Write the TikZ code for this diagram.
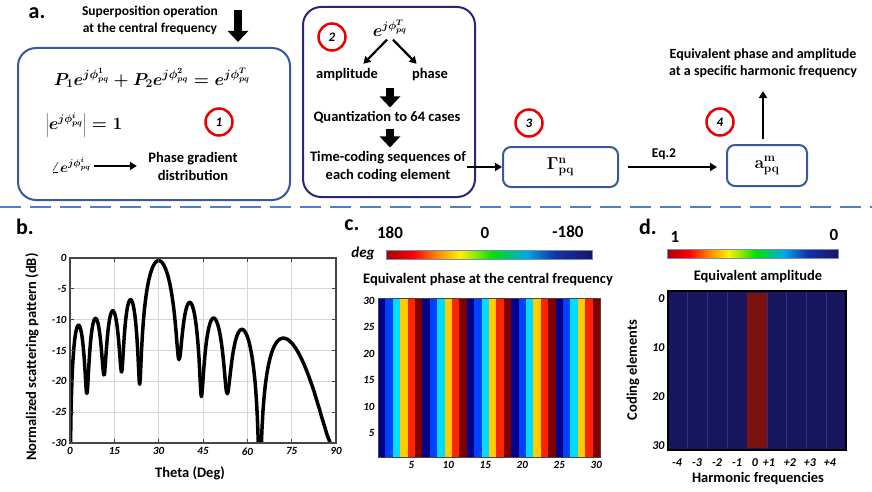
\documentclass[tikz,border=0pt]{standalone}
\usepackage[no-math]{fontspec}
\setmainfont{Carlito}
\usetikzlibrary{arrows.meta}
\usetikzlibrary{positioning}

\definecolor{boxblue}{RGB}{59,89,152}
\definecolor{boxpurple}{RGB}{44,38,120}
\definecolor{dashblue}{RGB}{80,125,200}
\definecolor{circred}{RGB}{235,0,0}
\definecolor{axisgray}{RGB}{70,70,70}
\definecolor{gridgray}{RGB}{215,215,215}
\definecolor{ph0}{RGB}{0,0,140}
\definecolor{ph1}{RGB}{0,64,255}
\definecolor{ph2}{RGB}{0,220,255}
\definecolor{ph3}{RGB}{255,204,0}
\definecolor{ph4}{RGB}{255,36,0}
\definecolor{ph5}{RGB}{128,0,0}
\definecolor{ampnavy}{RGB}{25,22,96}
\definecolor{ampline}{RGB}{50,46,130}
\definecolor{ampred}{RGB}{122,18,18}
\definecolor{j0}{RGB}{170,0,0}
\definecolor{j1}{RGB}{255,0,0}
\definecolor{j2}{RGB}{255,140,0}
\definecolor{j3}{RGB}{255,240,0}
\definecolor{j4}{RGB}{0,225,0}
\definecolor{j5}{RGB}{0,170,230}
\definecolor{j6}{RGB}{20,50,170}
\definecolor{j7}{RGB}{25,20,100}
\pgfdeclarehorizontalshading{jetbar}{100bp}{color(0bp)=(j0); color(25bp)=(j0);
  color(31.5bp)=(j1); color(37.5bp)=(j2); color(43bp)=(j3); color(51bp)=(j4);
  color(59bp)=(j5); color(66bp)=(j6); color(75bp)=(j7); color(100bp)=(j7)}

\tikzset{lbl/.style={align=center},
panel/.style={font=\bfseries\fontsize{22}{24}\selectfont},
mathlbl/.style={font=\fontsize{#1}{18}\selectfont\boldmath},
stage/.style={draw=boxblue, line width=2pt, rounded corners=18pt},
numc/.style={circle, draw=circred, line width=2.5pt, minimum size=27pt, inner sep=0pt,
  font=\bfseries\itshape\fontsize{13}{15}\selectfont},
blockarr/.style={line width=8pt, -{Triangle[length=11pt,width=20pt]}},
thinarr/.style={line width=2.2pt, -{Triangle[length=7pt,width=8pt]}},
ticklbl/.style={font=\bfseries\itshape\fontsize{11}{13}\selectfont},
bigdigit/.style={font=\bfseries\fontsize{17}{19}\selectfont}}

\begin{document}
\begin{tikzpicture}[x=1pt, y=1pt, font=\bfseries\fontsize{14.5}{18}\selectfont,
  declare function={lobe(\t,\ua,\w,\p,\el,\er)=\p+4.3429*ln(sin(180*(sin(\t)-\ua)/\w)*sin(180*(sin(\t)-\ua)/\w)
  +(\el+(\er-\el)*(sin(\t)-\ua)/\w)*(\el+(\er-\el)*(sin(\t)-\ua)/\w));}]
\useasboundingbox (0,0) rectangle (872,491);

% a. processing chain
\node[panel] at (37,478) {a.};
\node[lbl, font=\bfseries\fontsize{13.5}{17}\selectfont] (sup) at (150,471) {Superposition operation\\at the central frequency};
\coordinate (suptop) at (238,481);
\coordinate (supin) at (238,449);
\draw[blockarr] (suptop) -- (supin);

\node[stage, minimum width=272pt, minimum height=152pt] (box1) at (154,367) {};
\node[mathlbl=16.5] (eqsum) at (152,413) {$P_1e^{j\phi^1_{pq}}+P_2e^{j\phi^2_{pq}}=e^{j\phi^T_{pq}}$};
\node[mathlbl=16, anchor=west] (modeq) at (42,366) {$\left|e^{j\phi^i_{pq}}\right|=1$};
\node[numc] (c1) at (219,369) {1};
\node[mathlbl=14] (ang) at (71,326) {$\angle e^{j\phi^i_{pq}}$};
\node[lbl] (grad) at (193,325) {Phase gradient\\distribution};
\draw[thinarr, shorten >=8pt] (ang.east |- grad.west) -- (grad.west);

\node[stage, draw=boxpurple, minimum width=172pt, minimum height=190pt] (box2) at (389,389) {};
\node[numc] (c2) at (332,454) {2};
\node[mathlbl=16] (eT) at (390,463) {$e^{j\phi^T_{pq}}$};
\node (amp) at (347,416) {amplitude};
\node (pha) at (430,416) {phase};
\draw[thinarr, shorten >=2pt] ([xshift=-3pt]eT.south) -- ([xshift=15pt]amp.north);
\draw[thinarr, shorten >=2pt] ([xshift=3pt]eT.south) -- ([xshift=-12pt]pha.north);
\node (qnt) at (387,374) {Quantization to 64 cases};
\node[lbl, inner sep=1pt] (tcs) at (388,324) {Time-coding sequences of\\each coding element};
\draw[blockarr, shorten <=3pt] (eT.center |- amp.south) -- (eT.center |- qnt.north);
\draw[blockarr, shorten <=2pt, shorten >=3pt] (eT.center |- qnt.south) -- (eT.center |- tcs.north);

\node[stage, rounded corners=8pt, minimum width=115pt, minimum height=40pt, font=\fontsize{18}{20}\selectfont] (gam) at (560.5,324)
  {$\mathbf{\Gamma^{n}_{pq}}$};
\node[numc] (c3) at (529,368) {3};
\draw[thinarr] (tcs.east) -- (gam.west);
\node[stage, rounded corners=8pt, minimum width=80pt, minimum height=41pt, font=\fontsize{18}{20}\selectfont] (amq) at (767,325.5)
  {$\mathbf{a^{m}_{pq}}$};
\node[numc] (c4) at (720,369) {4};
\draw[thinarr, shorten <=9pt, shorten >=9pt] (gam.east) -- node[above=3pt, pos=0.42, font=\bfseries\fontsize{13.5}{16}\selectfont] {Eq.2} (amq.west |- gam.east);
\node[lbl, font=\bfseries\fontsize{14}{17}\selectfont] (harm) at (763,428) {Equivalent phase and amplitude\\at a specific harmonic frequency};
\draw[thinarr, shorten <=5pt, shorten >=10pt] (harm.south |- amq.north) -- (harm.south);

\draw[dashblue, line width=2.5pt, dash pattern=on 21pt off 9pt] (0,284) -- (872,284);

% b. scattering pattern
\node[panel] at (25,264) {b.};
\begin{scope}[shift={(70,233)}, x=2.9556pt, y=6.1667pt]
  \foreach \t in {15,30,...,75} \draw[gridgray, line width=0.8pt] (\t,0) -- (\t,-30);
  \foreach \d in {-5,-10,...,-25} \draw[gridgray, line width=0.8pt] (0,\d) -- (90,\d);
  \begin{scope}
    \clip (0,-30) rectangle (90,3);
    \foreach \la/\lb/\lp/\ldl/\ldr in {0/0.1/-11/-45/-22, 0.1/0.2/-10.2/-22/-19, 0.2/0.3/-9/-19/-18.5,
        0.3/0.4/-7/-18.5/-20.5, 0.4/0.6/-0.5/-20.5/-16.5, 0.6/0.7/-7.5/-16.5/-22.5,
        0.7/0.8/-10/-22.5/-22, 0.8/0.9/-11.7/-22/-40, 0.9/1.004/-13/-40/-45} {
      \pgfmathsetmacro\ta{asin(\la)}
      \pgfmathsetmacro\tb{asin(min(\lb,1))}
      \pgfmathsetmacro\eL{exp((\ldl-\lp)/8.6859)}
      \pgfmathsetmacro\eR{exp((\ldr-\lp)/8.6859)}
      \pgfmathsetmacro\lw{\lb-\la}
      \draw[line width=3.5pt, line cap=round, line join=round]
        plot[domain=\ta:\tb, samples=70] (\x, {lobe(\x,\la,\lw,\lp,\eL,\eR)});
    }
  \end{scope}
  \foreach \t in {15,30,...,75} \draw[axisgray, line width=0.8pt] (\t,-30) -- ++(0,0.6) (\t,0) -- ++(0,-0.6);
  \foreach \d in {-5,-10,...,-25} \draw[axisgray, line width=0.8pt] (0,\d) -- ++(1.3,0) (90,\d) -- ++(-1.3,0);
  \draw[axisgray, line width=1.5pt] (0,-30) rectangle (90,0);
  \foreach \t in {0,15,...,90} \node[ticklbl, anchor=north, yshift=-1pt] at (\t,-30) {\t};
  \foreach \d in {0,-5,...,-30} \node[ticklbl, anchor=east] at (0,\d) {\d};
\end{scope}
\node (thx) at (190,18) {Theta (Deg)};
\node[rotate=90] (thy) at (32,134) {Normalized scattering pattern (dB)};

% c. equivalent phase
\node[panel] at (352,266) {c.};
\node[shade, shading=jetbar, draw=boxblue!70, line width=0.6pt, minimum width=206pt, minimum height=9pt, inner sep=0pt] (cbar) at (489,236.5) {};
\node[bigdigit] at (390,258) {180};
\node[bigdigit] at (485,258) {0};
\node[bigdigit] at (568,259) {-180};
\node[font=\bfseries\itshape\fontsize{15}{17}\selectfont] at (363,238) {deg};
\node (phtitle) at (488,211) {Equivalent phase at the central frequency};
\begin{scope}[shift={(378,34)}, x=7.4pt, y=5.3pt]
  \foreach \i in {0,...,29} {
    \pgfmathtruncatemacro\k{mod(\i,6)}
    \fill[ph\k] (\i,0) rectangle (\i+1,30);
  }
  \draw[axisgray, line width=1pt] (0,0) rectangle (30,30);
  \foreach \v in {5,10,...,30} {
    \node[ticklbl, anchor=east] at (0,\v-0.5) {\v};
    \node[ticklbl, anchor=north, yshift=-1pt] at (\v-0.5,0) {\v};
  }
\end{scope}

% d. equivalent amplitude
\node[panel] at (648,264) {d.};
\node[shade, shading=jetbar, draw=boxblue!70, line width=0.6pt, minimum width=171pt, minimum height=9pt, inner sep=0pt] (abar) at (752.5,237.5) {};
\node[bigdigit] at (675,254) {1};
\node[bigdigit] at (834,256) {0};
\node (amtitle) at (758,214) {Equivalent amplitude};
\begin{scope}[shift={(668,41)}, x=19.78pt, y=5.3pt]
  \fill[ampnavy] (0,0) rectangle (9,30);
  \foreach \i in {1,...,8} \draw[ampline, line width=0.8pt] (\i,0) -- (\i,30);
  \fill[ampred] (4,0.4) rectangle (5,29.6);
  \draw[black, line width=2pt] (0,0) rectangle (9,30);
  \foreach \v in {0,10,20,30} \node[font=\bfseries\itshape\fontsize{12}{14}\selectfont, anchor=east] at (0,28.5-0.925*\v) {\v};
\end{scope}
\foreach \h/\hx in {-4/677,-3/697,-2/717,-1/737,0/755,+1/769,+2/790,+3/810,+4/830}
  \node[font=\bfseries\itshape\fontsize{12}{14}\selectfont] at (\hx,28) {\h};
\node (hfx) at (758,12) {Harmonic frequencies};
\node[rotate=90] (cey) at (633,121) {Coding elements};
\end{tikzpicture}
\end{document}
